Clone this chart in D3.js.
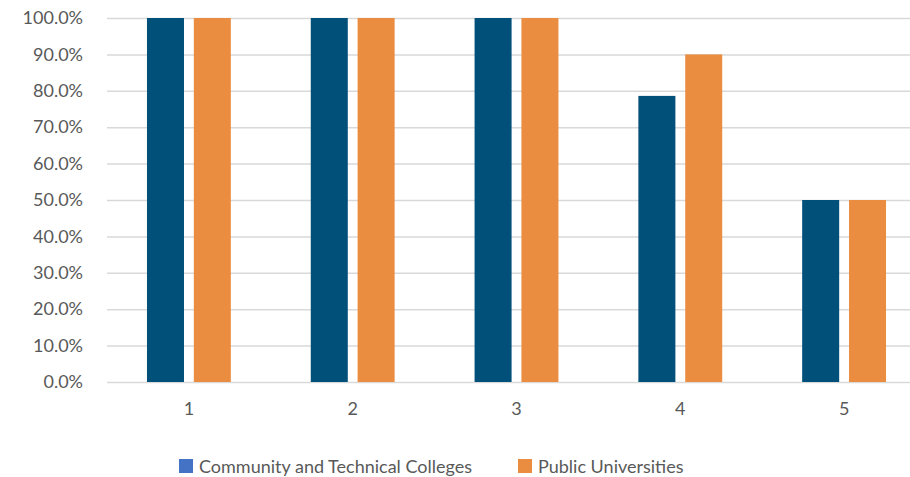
<!DOCTYPE html>
<html><head><meta charset="utf-8">
<script src="https://cdn.jsdelivr.net/npm/d3@7"></script>
<style>body{margin:0;background:#fff}svg{display:block}</style>
</head><body>
<svg id="chart" width="910" height="477"></svg>
<script>
const categories = ["1","2","3","4","5"];
const seriesNames = ["Community and Technical Colleges","Public Universities"];
const ctcValues = [1.0, 1.0, 1.0, 0.786, 0.5];
const puValues = [1.0, 1.0, 1.0, 0.9, 0.5];
const yTicks = [0,0.1,0.2,0.3,0.4,0.5,0.6,0.7,0.8,0.9,1.0];
const barColors = ["#00507A","#EB8D41"];
const legendColors = ["#4472C4","#EB8D41"];

const svg = d3.select("#chart");
const font = "Lato, 'Open Sans', sans-serif";
const y = d3.scaleLinear().domain([0,1]).range([382,18]);
const x0 = d3.scaleBand().domain(categories).range([107,926]).paddingInner(0.488).paddingOuter(0.244);
const x1 = d3.scaleBand().domain(seriesNames).range([0,x0.bandwidth()]).paddingInner(0.21);

const yAxis = d3.axisLeft(y).tickValues(yTicks).tickSize(-(926-107)).tickFormat(d3.format(".1%"));
const gy = svg.append("g").attr("transform","translate(107,0)").call(yAxis);
gy.select(".domain").remove();
gy.selectAll(".tick line").attr("stroke","#d9d9d9").attr("stroke-width",1.5);
gy.selectAll(".tick text").attr("x",-24).attr("fill","#595959").style("font-family",font).style("font-size","18px");

const data = categories.map((c,i)=>({cat:c, vals:[ctcValues[i], puValues[i]]}));
const groups = svg.append("g").selectAll("g").data(data).join("g")
  .attr("transform",d=>`translate(${x0(d.cat)},0)`);
groups.selectAll("rect").data(d=>d.vals.map((v,j)=>({s:seriesNames[j],v,j}))).join("rect")
  .attr("x",d=>x1(d.s)).attr("width",x1.bandwidth())
  .attr("y",d=>y(d.v)).attr("height",d=>y(0)-y(d.v))
  .attr("fill",d=>barColors[d.j]);

const xAxis = d3.axisBottom(x0).tickSize(0).tickPadding(20);
const gx = svg.append("g").attr("transform","translate(0,382)").call(xAxis);
gx.select(".domain").remove();
gx.selectAll(".tick text").attr("fill","#595959").style("font-family",font).style("font-size","18px");

const legendX = [179, 518];
const lg = svg.append("g").selectAll("g").data(seriesNames).join("g")
  .attr("transform",(d,i)=>`translate(${legendX[i]},459)`);
lg.append("rect").attr("width",14).attr("height",14).attr("fill",(d,i)=>legendColors[i]);
lg.append("text").attr("x",20).attr("y",14).attr("fill","#595959").style("font-family",font).style("font-size","18px").text(d=>d);
</script>
</body></html>
